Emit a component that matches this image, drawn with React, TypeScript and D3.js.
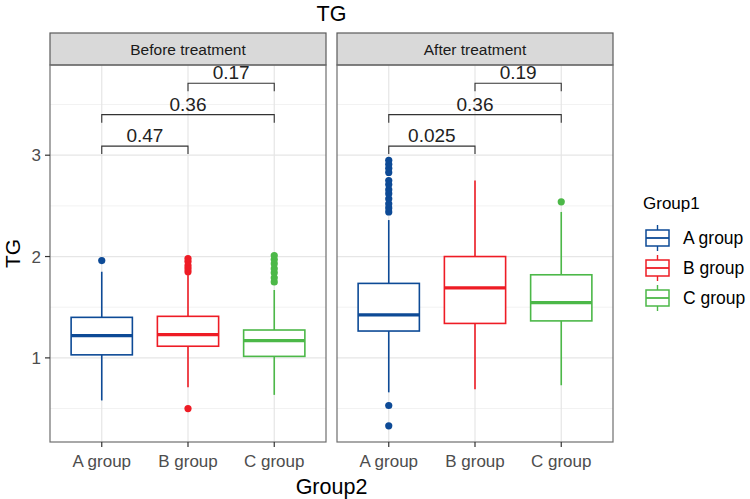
import { useRef, useEffect } from "react";
import * as d3 from "d3";

const categories = ["A group", "B group", "C group"];
const panels = ["Before treatment", "After treatment"];
const colors = ["#0d4a96", "#ee1c25", "#4cb848"];

// [whiskerLow, q1, median, q3, whiskerHigh]
const beforeStats = [
  [0.58, 1.03, 1.22, 1.4, 1.85],
  [0.71, 1.115, 1.23, 1.41, 1.83],
  [0.635, 1.015, 1.17, 1.275, 1.67],
];
const afterStats = [
  [0.66, 1.265, 1.425, 1.735, 2.36],
  [0.69, 1.34, 1.69, 2.0, 2.75],
  [0.73, 1.365, 1.545, 1.82, 2.44],
];
const beforeOutliers = [
  [1.96],
  [0.5, 1.85, 1.88, 1.91, 1.95, 1.98],
  [1.75, 1.79, 1.84, 1.88, 1.93, 1.97, 2.01],
];
const afterOutliers = [
  [0.33, 0.53, 2.44, 2.48, 2.52, 2.57, 2.62, 2.66, 2.71, 2.75, 2.83, 2.87, 2.91, 2.95],
  [],
  [2.54],
];
const beforePValues = ["0.47", "0.36", "0.17"];
const afterPValues = ["0.025", "0.36", "0.19"];
const comparisons: [number, number][] = [[0, 1], [0, 2], [1, 2]];
const bracketY = [3.09, 3.4, 3.71];
const yTicks = [1, 2, 3];
const yMinor = [0.5, 1.5, 2.5, 3.5];

export default function App() {
  const svgRef = useRef<SVGSVGElement | null>(null);

  useEffect(() => {
    const svg = d3.select(svgRef.current);
    svg.selectAll("*").remove();
    const width = 750;
    const height = 499;
    svg.attr("width", width).attr("height", height);
    const font = "Liberation Sans, Arial, sans-serif";

    const panelTop = 65;
    const panelBottom = 442;
    const stripTop = 33;
    const panelX = [
      [50, 326],
      [337, 613],
    ];

    const y = d3.scaleLinear().domain([0.17, 3.89]).range([panelBottom, panelTop]);

    const stats = [beforeStats, afterStats];
    const outliers = [beforeOutliers, afterOutliers];
    const pvals = [beforePValues, afterPValues];

    panels.forEach((name, p) => {
      const [x0, x1] = panelX[p];
      const x = d3.scalePoint<string>().domain(categories).range([x0, x1]).padding(0.6);
      const step = x.step();
      const bw = step * 0.71;
      const g = svg.append("g");

      g.append("rect")
        .attr("x", x0).attr("y", panelTop)
        .attr("width", x1 - x0).attr("height", panelBottom - panelTop)
        .attr("fill", "white");

      yMinor.forEach((v) => {
        g.append("line")
          .attr("x1", x0).attr("x2", x1).attr("y1", y(v)).attr("y2", y(v))
          .attr("stroke", "#f2f2f2").attr("stroke-width", 1);
      });
      yTicks.forEach((v) => {
        g.append("line")
          .attr("x1", x0).attr("x2", x1).attr("y1", y(v)).attr("y2", y(v))
          .attr("stroke", "#e6e6e6").attr("stroke-width", 1.2);
      });
      categories.forEach((c) => {
        g.append("line")
          .attr("x1", x(c)!).attr("x2", x(c)!).attr("y1", panelTop).attr("y2", panelBottom)
          .attr("stroke", "#e6e6e6").attr("stroke-width", 1.2);
      });

      categories.forEach((c, i) => {
        const [lo, q1, med, q3, hi] = stats[p][i];
        const cx = x(c)!;
        const col = colors[i];
        g.append("line").attr("x1", cx).attr("x2", cx).attr("y1", y(hi)).attr("y2", y(q3))
          .attr("stroke", col).attr("stroke-width", 1.6);
        g.append("line").attr("x1", cx).attr("x2", cx).attr("y1", y(q1)).attr("y2", y(lo))
          .attr("stroke", col).attr("stroke-width", 1.6);
        g.append("rect")
          .attr("x", cx - bw / 2).attr("y", y(q3))
          .attr("width", bw).attr("height", y(q1) - y(q3))
          .attr("fill", "white").attr("stroke", col).attr("stroke-width", 1.6);
        g.append("line").attr("x1", cx - bw / 2).attr("x2", cx + bw / 2)
          .attr("y1", y(med)).attr("y2", y(med))
          .attr("stroke", col).attr("stroke-width", 3.2);
        outliers[p][i].forEach((v) => {
          g.append("circle").attr("cx", cx).attr("cy", y(v)).attr("r", 3.6).attr("fill", col);
        });
      });

      comparisons.forEach(([a, b], k) => {
        const xa = x(categories[a])!;
        const xb = x(categories[b])!;
        const yy = y(bracketY[k]);
        g.append("path")
          .attr("d", `M${xa},${yy + 8}V${yy}H${xb}V${yy + 8}`)
          .attr("fill", "none").attr("stroke", "#333").attr("stroke-width", 1.1);
        g.append("text")
          .attr("x", (xa + xb) / 2).attr("y", yy - 4)
          .attr("text-anchor", "middle")
          .attr("font-family", font).attr("font-size", 19).attr("fill", "#222")
          .text(pvals[p][k]);
      });

      // strip
      g.append("rect")
        .attr("x", x0).attr("y", stripTop)
        .attr("width", x1 - x0).attr("height", panelTop - stripTop)
        .attr("fill", "#d9d9d9").attr("stroke", "#5a5a5a").attr("stroke-width", 1.2);
      g.append("text")
        .attr("x", (x0 + x1) / 2).attr("y", (stripTop + panelTop) / 2 + 5.5)
        .attr("text-anchor", "middle")
        .attr("font-family", font).attr("font-size", 15.5).attr("fill", "#1a1a1a")
        .text(name);

      g.append("rect")
        .attr("x", x0).attr("y", panelTop)
        .attr("width", x1 - x0).attr("height", panelBottom - panelTop)
        .attr("fill", "none").attr("stroke", "#6e6e6e").attr("stroke-width", 1.2);

      categories.forEach((c) => {
        g.append("line").attr("x1", x(c)!).attr("x2", x(c)!)
          .attr("y1", panelBottom).attr("y2", panelBottom + 5)
          .attr("stroke", "#333").attr("stroke-width", 1.2);
        g.append("text")
          .attr("x", x(c)!).attr("y", panelBottom + 25)
          .attr("text-anchor", "middle")
          .attr("font-family", font).attr("font-size", 17).attr("fill", "#4d4d4d")
          .text(c);
      });
    });

    // y axis
    yTicks.forEach((v) => {
      svg.append("line").attr("x1", 45).attr("x2", 50).attr("y1", y(v)).attr("y2", y(v))
        .attr("stroke", "#333").attr("stroke-width", 1.2);
      svg.append("text")
        .attr("x", 41).attr("y", y(v) + 6)
        .attr("text-anchor", "end")
        .attr("font-family", font).attr("font-size", 17).attr("fill", "#4d4d4d")
        .text(v);
    });

    svg.append("text")
      .attr("transform", `translate(20,${(panelTop + panelBottom) / 2}) rotate(-90)`)
      .attr("text-anchor", "middle")
      .attr("font-family", font).attr("font-size", 21).attr("fill", "#000")
      .text("TG");
    svg.append("text")
      .attr("x", (panelX[0][0] + panelX[1][1]) / 2).attr("y", 494)
      .attr("text-anchor", "middle")
      .attr("font-family", font).attr("font-size", 21.5).attr("fill", "#000")
      .text("Group2");
    svg.append("text")
      .attr("x", (panelX[0][0] + panelX[1][1]) / 2).attr("y", 21)
      .attr("text-anchor", "middle")
      .attr("font-family", font).attr("font-size", 21.5).attr("fill", "#000")
      .text("TG");

    // legend
    const lg = svg.append("g");
    lg.append("text")
      .attr("x", 643).attr("y", 209)
      .attr("font-family", font).attr("font-size", 17).attr("fill", "#000")
      .text("Group1");
    categories.forEach((c, i) => {
      const cy = 238 + i * 30;
      const col = colors[i];
      lg.append("line").attr("x1", 657.5).attr("x2", 657.5).attr("y1", cy - 13).attr("y2", cy + 13)
        .attr("stroke", col).attr("stroke-width", 1.4);
      lg.append("rect").attr("x", 646).attr("y", cy - 8).attr("width", 23).attr("height", 16)
        .attr("fill", "white").attr("stroke", col).attr("stroke-width", 1.5);
      lg.append("line").attr("x1", 646).attr("x2", 669).attr("y1", cy).attr("y2", cy)
        .attr("stroke", col).attr("stroke-width", 1.8);
      lg.append("text")
        .attr("x", 683).attr("y", cy + 6)
        .attr("font-family", font).attr("font-size", 17.5).attr("fill", "#000")
        .text(c);
    });
  }, []);

  return (
    <div style={{ width: 750, height: 499, position: "relative" }}>
      <svg ref={svgRef} style={{ position: "fixed", top: 0, left: 0, background: "white" }} />
    </div>
  );
}
